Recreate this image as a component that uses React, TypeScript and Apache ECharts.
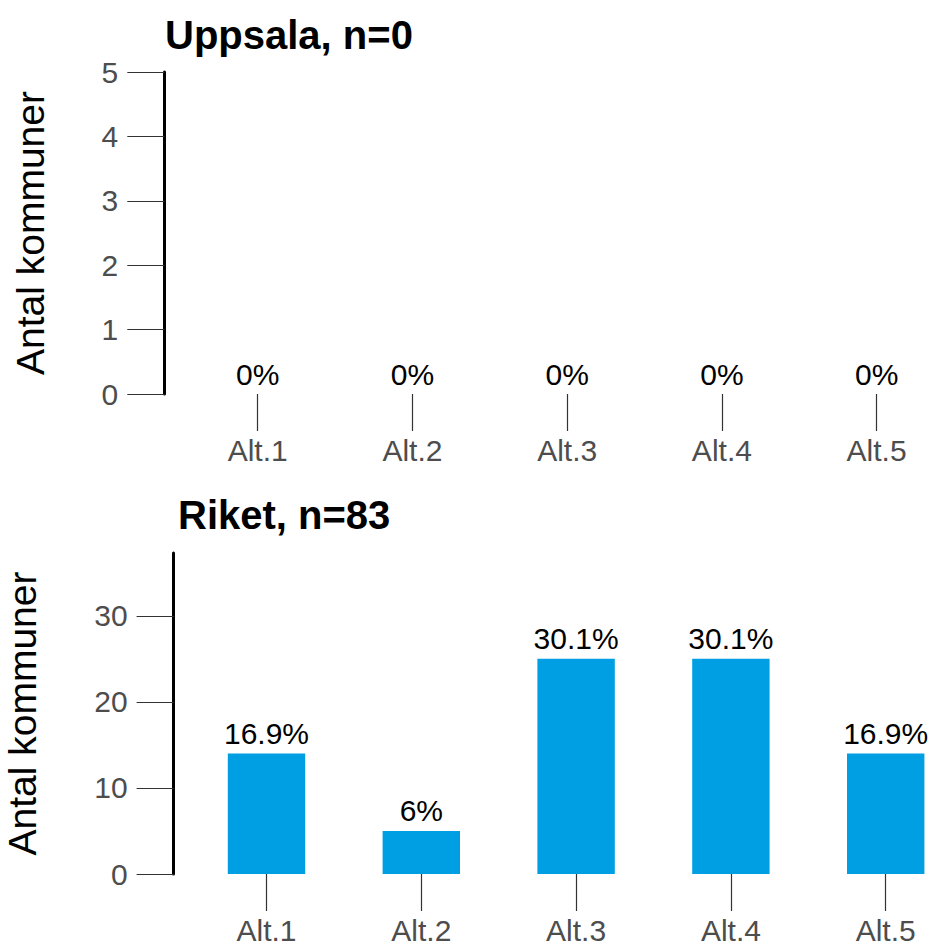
import React, { useEffect, useRef } from "react";
import * as echarts from "echarts";

const categories = ["Alt.1", "Alt.2", "Alt.3", "Alt.4", "Alt.5"];
const uppsalaValues = [0, 0, 0, 0, 0];
const riketValues = [14, 5, 25, 25, 14];
const uppsalaTicks = [0, 1, 2, 3, 4, 5];
const riketTicks = [0, 10, 20, 30];
const uppsalaTitle = "Uppsala, n=0";
const riketTitle = "Riket, n=83";
const yName = "Antal kommuner";

const FONT = "'Liberation Sans', Arial, sans-serif";
const BAR = "#009FE3";

function pctFormatter(values: number[]) {
  const n = values.reduce((a, b) => a + b, 0);
  return (p: any) => {
    const v = p.value as number;
    const pct = n > 0 ? Math.round((v / n) * 1000) / 10 : 0;
    return `${pct}%`;
  };
}

function xAxisCfg(gridIndex: number) {
  return {
    type: "category",
    gridIndex,
    data: categories,
    axisLine: { show: false },
    axisTick: {
      show: true,
      alignWithLabel: true,
      length: 37,
      lineStyle: { color: "#333333", width: 1.2 },
    },
    axisLabel: { color: "#4D4D4D", fontSize: 30, fontFamily: FONT, margin: 41 },
    splitLine: { show: false },
  };
}

function yAxisCfg(gridIndex: number, max: number, ticks: number[], offset: number, nameGap: number) {
  return {
    type: "value",
    gridIndex,
    min: 0,
    max,
    offset,
    name: yName,
    nameLocation: "middle",
    nameRotate: 90,
    nameGap,
    nameTextStyle: { color: "#000", fontSize: 39, fontFamily: FONT },
    axisLine: { show: true, lineStyle: { color: "#000", width: 3 } },
    axisTick: {
      show: true,
      length: 37,
      customValues: ticks,
      lineStyle: { color: "#333333", width: 1.2 },
    },
    axisLabel: {
      color: "#4D4D4D",
      fontSize: 30,
      fontFamily: FONT,
      margin: 46,
      customValues: ticks,
    },
    splitLine: { show: false },
  };
}

export default function App() {
  const ref = useRef<HTMLDivElement>(null);
  useEffect(() => {
    if (!ref.current) return;
    const chart = echarts.init(ref.current, null, { renderer: "svg" });
    chart.setOption({
      animation: false,
      backgroundColor: "#fff",
      title: [
        {
          text: uppsalaTitle,
          left: 165,
          top: 15,
          padding: 0,
          textStyle: { fontSize: 40, fontWeight: "bold", color: "#000", fontFamily: FONT },
        },
        {
          text: riketTitle,
          left: 178,
          top: 495,
          padding: 0,
          textStyle: { fontSize: 40, fontWeight: "bold", color: "#000", fontFamily: FONT },
        },
      ],
      grid: [
        { left: 180.3, width: 773.7, top: 72, height: 322, containLabel: false, outerBoundsMode: "none" },
        { left: 189.1, width: 774, top: 553, height: 321, containLabel: false, outerBoundsMode: "none" },
      ],
      xAxis: [xAxisCfg(0), xAxisCfg(1)],
      yAxis: [
        yAxisCfg(0, 5, uppsalaTicks, 16, 114),
        yAxisCfg(1, 37.3, riketTicks, 15.5, 132),
      ],
      series: [
        {
          type: "bar",
          xAxisIndex: 0,
          yAxisIndex: 0,
          data: uppsalaValues,
          barWidth: "50%",
          itemStyle: { color: BAR },
          label: {
            show: true,
            position: "top",
            color: "#000",
            fontSize: 30,
            fontFamily: FONT,
            formatter: pctFormatter(uppsalaValues),
          },
        },
        {
          type: "bar",
          xAxisIndex: 1,
          yAxisIndex: 1,
          data: riketValues,
          barWidth: "50%",
          itemStyle: { color: BAR },
          label: {
            show: true,
            position: "top",
            color: "#000",
            fontSize: 30,
            fontFamily: FONT,
            formatter: pctFormatter(riketValues),
          },
        },
      ],
    });
    return () => chart.dispose();
  }, []);
  return (
    <div
      ref={ref}
      style={{ position: "absolute", left: 0, top: 0, width: 931, height: 947 }}
    />
  );
}
